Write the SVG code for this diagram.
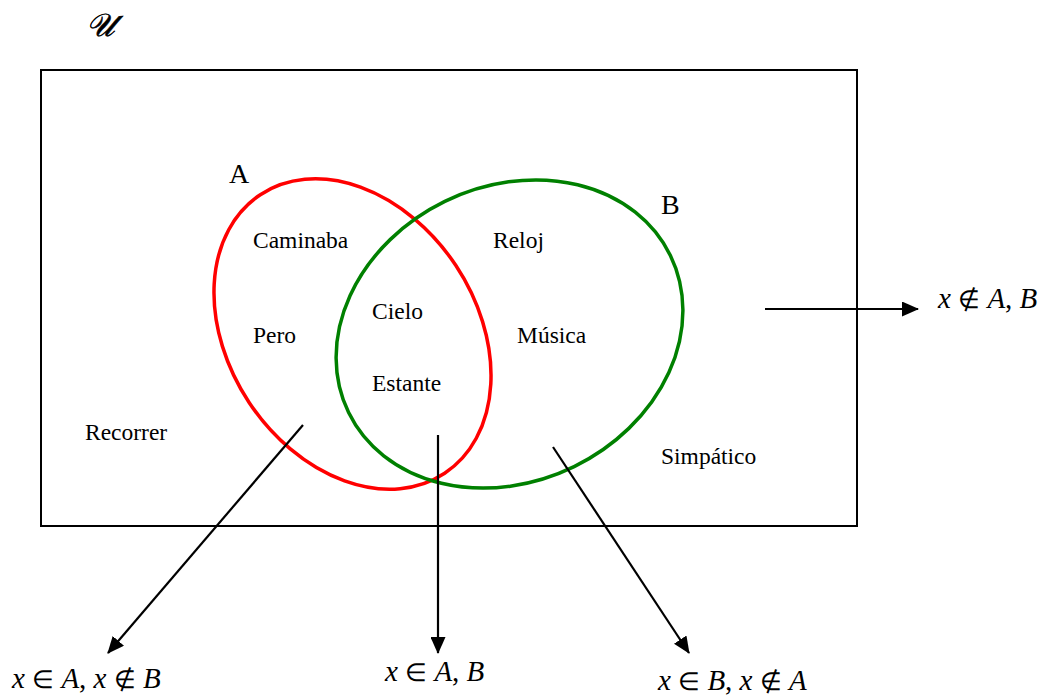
<svg xmlns="http://www.w3.org/2000/svg" width="1044" height="695" viewBox="0 0 1044 695">
<style>
.t{font-family:"Liberation Serif","Times New Roman",serif;font-size:23.5px;fill:#000}
.big{font-family:"Liberation Serif","Times New Roman",serif;font-size:28px;fill:#000}
.m{font-family:"Liberation Serif","Times New Roman",serif;font-size:29px;fill:#000}
.s{font-size:25px}
.i{font-style:italic}
.c{stroke:#000;stroke-width:2.2;fill:none}
</style>
<defs>
<marker id="ah" viewBox="0 0 17 15" refX="16" refY="7.5" markerWidth="17" markerHeight="15" markerUnits="userSpaceOnUse" orient="auto">
<path d="M0,0 L17,7.5 L0,15 z" fill="#000"/>
</marker>
</defs>
<rect width="1044" height="695" fill="#fff"/>
<text x="86" y="36" font-family="DejaVu Serif,serif" font-size="32" font-style="italic" stroke="#000" stroke-width="0.6">𝒰</text>
<g id="universe"><rect x="41" y="70" width="816" height="456" fill="none" stroke="#000" stroke-width="2"/></g>
<g id="setA">
<ellipse cx="352.5" cy="334" rx="167" ry="124" transform="rotate(56.5 352.5 334)" fill="none" stroke="#ff0000" stroke-width="3.5"/>
<text class="big" x="229" y="183">A</text>
</g>
<g id="setB">
<ellipse cx="509.5" cy="334" rx="179" ry="147.5" transform="rotate(-26 509.5 334)" fill="none" stroke="#008000" stroke-width="3.5"/>
<text class="big" x="661" y="214">B</text>
</g>
<g id="elements">
<text class="t" x="253" y="248">Caminaba</text>
<text class="t" x="493" y="248">Reloj</text>
<text class="t" x="372" y="319">Cielo</text>
<text class="t" x="253" y="343">Pero</text>
<text class="t" x="517" y="343">Música</text>
<text class="t" x="372" y="391">Estante</text>
<text class="t" x="85" y="440">Recorrer</text>
<text class="t" x="661" y="464">Simpático</text>
</g>
<g id="connectors">
<line class="c" x1="303" y1="425" x2="108" y2="653" marker-end="url(#ah)"/>
<line class="c" x1="438" y1="435" x2="438" y2="653" marker-end="url(#ah)"/>
<line class="c" x1="553" y1="447" x2="689" y2="653" marker-end="url(#ah)"/>
<line class="c" x1="765" y1="309" x2="918" y2="309" marker-end="url(#ah)"/>
</g>
<g id="labels">
<text class="m" x="12" y="688"><tspan class="i">x</tspan> <tspan class="s">∈</tspan> <tspan class="i">A</tspan>, <tspan class="i">x</tspan> <tspan class="s">∉</tspan> <tspan class="i">B</tspan></text>
<text class="m" x="385" y="681"><tspan class="i">x</tspan> <tspan class="s">∈</tspan> <tspan class="i">A</tspan>, <tspan class="i">B</tspan></text>
<text class="m" x="658" y="690"><tspan class="i">x</tspan> <tspan class="s">∈</tspan> <tspan class="i">B</tspan>, <tspan class="i">x</tspan> <tspan class="s">∉</tspan> <tspan class="i">A</tspan></text>
<text class="m" x="938" y="308"><tspan class="i">x</tspan> <tspan class="s">∉</tspan> <tspan class="i">A</tspan>, <tspan class="i">B</tspan></text>
</g>
</svg>
